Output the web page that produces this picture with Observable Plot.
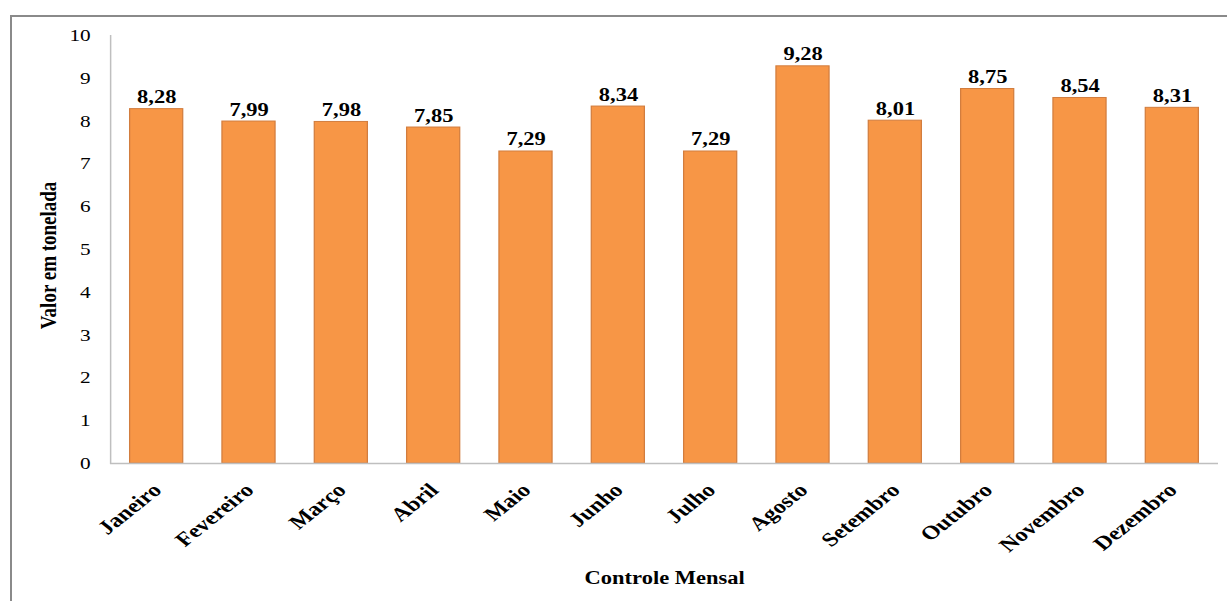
<!DOCTYPE html>
<html>
<head>
<meta charset="utf-8">
<script src="https://cdn.jsdelivr.net/npm/d3@7"></script>
<script src="https://cdn.jsdelivr.net/npm/@observablehq/plot@0.6"></script>
<style>
  html, body { margin: 0; padding: 0; background: #fff; width: 1227px; height: 601px; overflow: hidden; }
  #wrap { position: relative; width: 1227px; height: 601px; }
  #border { position: absolute; left: 10px; top: 15px; width: 1300px; height: 700px; border: 2px solid #8a8a8a; box-sizing: border-box; pointer-events: none; }
  #chart { position: absolute; left: 0; top: 0; }
</style>
</head>
<body>
<div id="wrap"><div id="border"></div><div id="chart"></div></div>
<script>
const months = ["Janeiro","Fevereiro","Março","Abril","Maio","Junho","Julho","Agosto","Setembro","Outubro","Novembro","Dezembro"];
const values = [8.28, 7.99, 7.98, 7.85, 7.29, 8.34, 7.29, 9.28, 8.01, 8.75, 8.54, 8.31];
const yTicks = [0,1,2,3,4,5,6,7,8,9,10];
const yLabel = "Valor em tonelada";
const xLabel = "Controle Mensal";

const data = months.map((m, i) => ({month: m, value: values[i]}));
const fmt = v => v.toFixed(2).replace(".", ",");

const S = 1.25;               // horizontal stretch of the original picture
const W = 1227 / S;
const H = 601;
const font = "'Liberation Serif', 'Times New Roman', serif";

const chart = Plot.plot({
  width: W,
  height: H,
  marginLeft: 88,
  marginRight: W - 1218 / S,
  marginTop: 35,
  marginBottom: 138,
  style: {fontFamily: font, fontSize: "17px", color: "#000", background: "transparent"},
  x: {domain: months, paddingInner: 0.425, paddingOuter: 0.2125, round: false, label: null},
  y: {domain: [0, 10], label: null},
  marks: [
    Plot.barY(data, {x: "month", y: "value", fill: "#F79646", stroke: "#d27d3e", strokeWidth: 1}),
    Plot.ruleY([0], {stroke: "#bfbfbf", strokeWidth: 1.5}),
    Plot.frame({anchor: "left", stroke: "#bfbfbf", strokeWidth: 1.2}),
    Plot.axisY({ticks: yTicks, tickSize: 0, tickPadding: 16, tickFormat: d => String(d), fontSize: 17, label: null}),
    Plot.axisX({tickSize: 0, tickPadding: 18, dx: -5, rotate: -45, textAnchor: "end", fontSize: 19.5, fontWeight: "bold", label: null}),
    Plot.text(data, {x: "month", y: "value", text: d => fmt(d.value), lineAnchor: "bottom", dy: -6, fontWeight: "bold", fontSize: 18, fill: "#000"}),
    Plot.text([yLabel], {frameAnchor: "left", dx: -50, dy: 6, rotate: -90, text: d => d, textAnchor: "middle", lineAnchor: "middle", fontWeight: "bold", fontSize: 19, fill: "#000"}),
    Plot.text([xLabel], {frameAnchor: "bottom", dy: 120, text: d => d, textAnchor: "middle", lineAnchor: "bottom", fontWeight: "bold", fontSize: 18, fill: "#000"})
  ]
});

chart.setAttribute("width", 1227);
chart.setAttribute("height", 601);
chart.setAttribute("preserveAspectRatio", "none");
chart.style.width = "1227px";
chart.style.height = "601px";
chart.style.maxWidth = "none";
document.getElementById("chart").appendChild(chart);
</script>
</body>
</html>
